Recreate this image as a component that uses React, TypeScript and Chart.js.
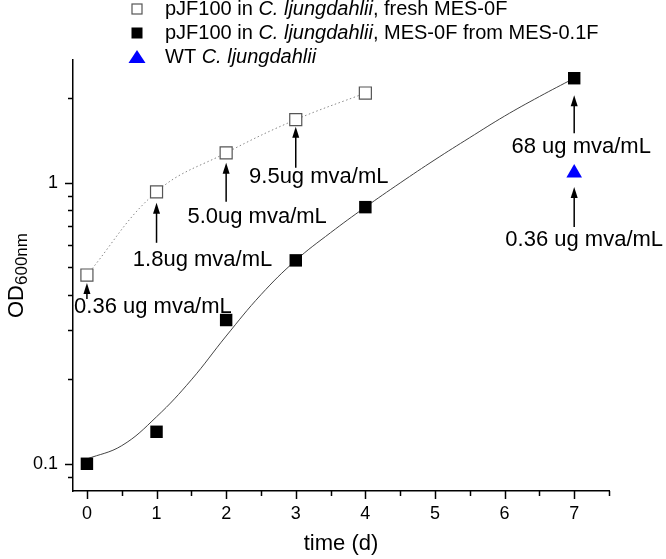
import React, { useEffect, useRef } from "react";
import { Chart, registerables } from "chart.js";

Chart.register(...registerables);

// ---------- data ----------
const daysFresh = [0, 1, 2, 3, 4];
const odFresh = [0.47, 0.93, 1.28, 1.68, 2.09];

const daysAdapted = [0, 1, 2, 3, 4, 7];
const odAdapted = [0.1, 0.13, 0.325, 0.53, 0.82, 2.36];

const daysWT = [7];
const odWT = [1.085];

// fitted growth curve
const fitDays = [0, 0.5, 1, 1.5, 2, 2.5, 3, 3.5, 4, 4.5, 5, 5.5, 6, 6.5, 7];
const fitOD = [0.104, 0.116, 0.147, 0.199, 0.285, 0.4, 0.53, 0.665, 0.82, 1.0, 1.21, 1.45, 1.73, 2.03, 2.36];

const xMajorTicks = [0, 1, 2, 3, 4, 5, 6, 7];
const xMinorTicks = [0.5, 1.5, 2.5, 3.5, 4.5, 5.5, 6.5, 7.5];
const yMajorTicks = [0.1, 1];
const yMinorTicks = [0.09, 0.2, 0.3, 0.4, 0.5, 0.6, 0.7, 0.8, 0.9, 2];
const yTickLabels = ["0.1", "1"];

const legendLabels: [string, boolean][][] = [
  [["pJF100 in ", false], ["C. ljungdahlii", true], [", fresh MES-0F", false]],
  [["pJF100 in ", false], ["C. ljungdahlii", true], [", MES-0F from MES-0.1F", false]],
  [["WT ", false], ["C. ljungdahlii", true]],
];

const annotationTexts = [
  "0.36 ug mva/mL",
  "1.8ug mva/mL",
  "5.0ug mva/mL",
  "9.5ug mva/mL",
  "68 ug mva/mL",
  "0.36 ug mva/mL",
];
// which point each annotation points at: [series, index]
const annotationTargets: [string, number][] = [
  ["fresh", 0],
  ["fresh", 1],
  ["fresh", 2],
  ["fresh", 3],
  ["adapted", 5],
  ["wt", 0],
];

// ---------- layout / style ----------
const FONT = '"Liberation Sans", Arial, Helvetica, sans-serif';
const annotationLayout = [
  { tip: 8, tail: 24, dx: 66, dy: 32 },
  { tip: 11, tail: 51, dx: 46, dy: 68 },
  { tip: 10, tail: 49, dx: 31, dy: 64 },
  { tip: 7, tail: 48, dx: 23, dy: 57 },
  { tip: 17, tail: 55, dx: 7, dy: 69 },
  { tip: 14, tail: 54, dx: 10, dy: 67 },
];

const seriesData: Record<string, { x: number[]; y: number[] }> = {
  fresh: { x: daysFresh, y: odFresh },
  adapted: { x: daysAdapted, y: odAdapted },
  wt: { x: daysWT, y: odWT },
};

const pts = (xs: number[], ys: number[]) => xs.map((x, i) => ({ x, y: ys[i] }));

const ticksPlugin = {
  id: "customTicks",
  afterDraw(chart: any) {
    const { ctx, scales } = chart;
    const xs = scales.x;
    const ys = scales.y;
    const axisY = chart.chartArea.bottom;
    const axisX = chart.chartArea.left;
    ctx.save();
    ctx.strokeStyle = "#000";
    ctx.lineWidth = 1.5;
    const drawX = (v: number, len: number) => {
      const p = Math.round(xs.getPixelForValue(v)) + 0.5;
      ctx.beginPath();
      ctx.moveTo(p, axisY);
      ctx.lineTo(p, axisY + len);
      ctx.stroke();
    };
    const drawY = (v: number, len: number) => {
      const p = Math.round(ys.getPixelForValue(v)) + 0.5;
      ctx.beginPath();
      ctx.moveTo(axisX, p);
      ctx.lineTo(axisX - len, p);
      ctx.stroke();
    };
    xMajorTicks.forEach((v) => drawX(v, 8));
    xMinorTicks.forEach((v) => drawX(v, 5));
    yMajorTicks.forEach((v) => drawY(v, 8));
    yMinorTicks.forEach((v) => drawY(v, 5));
    ctx.restore();
  },
};

const yTitlePlugin = {
  id: "yTitle",
  afterDraw(chart: any) {
    const { ctx, chartArea } = chart;
    const cy = (chartArea.top + chartArea.bottom) / 2;
    ctx.save();
    ctx.translate(23, cy);
    ctx.rotate(-Math.PI / 2);
    ctx.fillStyle = "#000";
    ctx.textBaseline = "alphabetic";
    ctx.textAlign = "left";
    ctx.font = `22px ${FONT}`;
    const w1 = ctx.measureText("OD").width;
    ctx.font = `17px ${FONT}`;
    const w2 = ctx.measureText("600nm").width;
    const start = -(w1 + w2) / 2;
    ctx.font = `22px ${FONT}`;
    ctx.fillText("OD", start, 0);
    ctx.font = `17px ${FONT}`;
    ctx.fillText("600nm", start + w1, 4);
    ctx.restore();
  },
};

const legendPlugin = {
  id: "customLegend",
  afterDraw(chart: any) {
    const { ctx } = chart;
    const rows = [9, 33, 57];
    const mx = 137;
    const tx = 165;
    ctx.save();
    rows.forEach((ry, i) => {
      if (i === 0) {
        ctx.fillStyle = "#fff";
        ctx.strokeStyle = "#555";
        ctx.lineWidth = 1.2;
        ctx.fillRect(mx - 5, ry - 5, 10, 10);
        ctx.strokeRect(mx - 5, ry - 5, 10, 10);
      } else if (i === 1) {
        ctx.fillStyle = "#000";
        ctx.fillRect(mx - 5.5, ry - 5.5, 11, 11);
      } else {
        ctx.fillStyle = "#0000ff";
        ctx.beginPath();
        ctx.moveTo(mx, ry - 7);
        ctx.lineTo(mx + 8.5, ry + 6);
        ctx.lineTo(mx - 8.5, ry + 6);
        ctx.closePath();
        ctx.fill();
      }
      let x = tx;
      ctx.fillStyle = "#000";
      ctx.textBaseline = "middle";
      ctx.textAlign = "left";
      legendLabels[i].forEach(([t, it]) => {
        ctx.font = `${it ? "italic " : ""}20px ${FONT}`;
        ctx.fillText(t, x, ry);
        x += ctx.measureText(t).width;
      });
    });
    ctx.restore();
  },
};

const annotationPlugin = {
  id: "arrows",
  afterDatasetsDraw(chart: any) {
    const { ctx, scales } = chart;
    ctx.save();
    ctx.strokeStyle = "#000";
    ctx.fillStyle = "#000";
    ctx.lineWidth = 1.5;
    annotationTexts.forEach((txt, i) => {
      const [series, idx] = annotationTargets[i];
      const s = seriesData[series];
      const px = scales.x.getPixelForValue(s.x[idx]);
      const py = scales.y.getPixelForValue(s.y[idx]);
      const L = annotationLayout[i];
      const tipY = py + L.tip;
      const tailY = py + L.tail;
      ctx.beginPath();
      ctx.moveTo(px, tailY);
      ctx.lineTo(px, tipY + 8);
      ctx.stroke();
      ctx.beginPath();
      ctx.moveTo(px, tipY);
      ctx.lineTo(px - 3.5, tipY + 11);
      ctx.lineTo(px + 3.5, tipY + 11);
      ctx.closePath();
      ctx.fill();
      ctx.font = `22px ${FONT}`;
      ctx.textAlign = "center";
      ctx.textBaseline = "middle";
      ctx.fillText(txt, px + L.dx, py + L.dy);
    });
    ctx.restore();
  },
};

export default function App() {
  const ref = useRef<HTMLCanvasElement | null>(null);

  useEffect(() => {
    if (!ref.current) return;
    const chart = new Chart(ref.current, {
      type: "line",
      data: {
        datasets: [
          {
            label: "fresh",
            data: pts(daysFresh, odFresh),
            borderColor: "#888",
            borderWidth: 1,
            borderDash: [1.5, 2.5],
            tension: 0.4,
            pointStyle: "rect",
            pointRadius: 8.5,
            pointBackgroundColor: "#fff",
            pointBorderColor: "#555",
            pointBorderWidth: 1.2,
          },
          {
            label: "adapted",
            data: pts(daysAdapted, odAdapted),
            showLine: false,
            pointStyle: "rect",
            pointRadius: 8.8,
            pointBackgroundColor: "#000",
            pointBorderColor: "#000",
            pointBorderWidth: 0,
          },
          {
            label: "wt",
            data: pts(daysWT, odWT),
            showLine: false,
            pointStyle: "triangle",
            pointRadius: 9,
            pointBackgroundColor: "#0000ff",
            pointBorderColor: "#0000ff",
            pointBorderWidth: 0,
          },
          {
            label: "fit",
            data: pts(fitDays, fitOD),
            borderColor: "#444",
            borderWidth: 1,
            tension: 0.4,
            pointRadius: 0,
          },
        ],
      },
      options: {
        animation: false,
        responsive: false,
        devicePixelRatio: 1,
        layout: { padding: { top: 60, right: 57, left: 0, bottom: 0 } },
        plugins: { legend: { display: false }, tooltip: { enabled: false } },
        scales: {
          x: {
            type: "linear",
            min: -0.2,
            max: 7.5,
            afterFit: (s: any) => {
              s.height = 68;
            },
            grid: { display: false, drawTicks: false },
            border: { display: true, color: "#000", width: 1.5 },
            ticks: {
              stepSize: 1,
              includeBounds: false,
              padding: 12,
              color: "#000",
              font: { family: FONT, size: 18 },
              callback: (v: any) => (xMajorTicks.includes(Number(v)) ? String(v) : ""),
            },
            title: {
              display: true,
              text: "time (d)",
              color: "#000",
              font: { family: FONT, size: 22 },
              padding: { top: 0, bottom: 2 },
            },
          },
          y: {
            type: "logarithmic",
            min: 0.08,
            max: 2.74,
            afterFit: (s: any) => {
              s.width = 73;
            },
            grid: { display: false, drawTicks: false },
            border: { display: true, color: "#000", width: 1.5 },
            ticks: {
              autoSkip: false,
              padding: 15,
              color: "#000",
              font: { family: FONT, size: 18 },
              callback: (v: any) => {
                const n = Number(v);
                for (let i = 0; i < yMajorTicks.length; i++) {
                  if (Math.abs(n - yMajorTicks[i]) < 1e-9) return yTickLabels[i];
                }
                return "";
              },
            },
          },
        },
      },
      plugins: [ticksPlugin, yTitlePlugin, legendPlugin, annotationPlugin],
    } as any);
    return () => chart.destroy();
  }, []);

  return (
    <div
      style={{
        position: "fixed",
        left: 0,
        top: 0,
        width: 666,
        height: 559,
        background: "#fff",
      }}
    >
      <canvas ref={ref} width={666} height={559} style={{ width: 666, height: 559, display: "block" }} />
    </div>
  );
}
